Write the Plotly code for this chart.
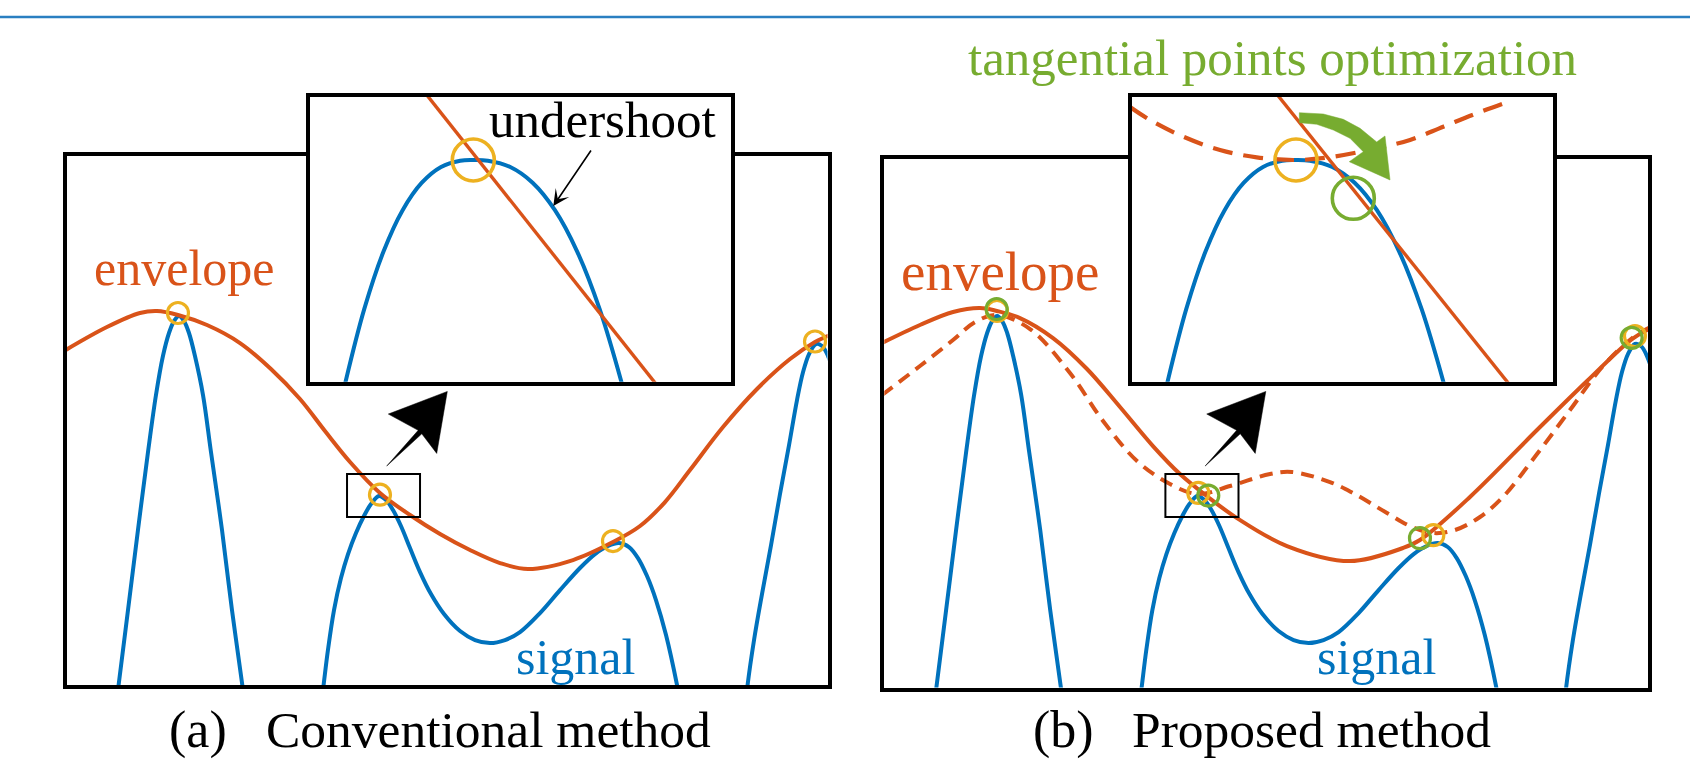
import plotly.graph_objects as go

# ---------------------------------------------------------------
# Figure geometry (pixels) and palette
# ---------------------------------------------------------------
W, H = 1690, 764
BLUE, RED, YELLOW, GREEN = "#0072BD", "#D95319", "#EDB120", "#77AC30"
RULE_BLUE = "#2a7fc1"
SERIF = "Liberation Serif, Times New Roman, serif"

# ---------------------------------------------------------------
# Data (schematic units)
# ---------------------------------------------------------------
# Oscillating signal, identical in both panels (values below 0 are clipped)
signal_t = [0.470, 0.627, 0.705, 0.836, 0.966, 1.097, 1.201, 1.292, 1.371, 1.436,
            1.501, 1.567, 1.632, 1.710, 1.815, 1.919, 2.063, 2.193, 2.337, 2.415,
            2.846, 3.290, 3.381, 3.446, 3.525, 3.616, 3.708, 3.812, 3.916, 4.008,
            4.112, 4.204, 4.295, 4.399, 4.517, 4.648, 4.791, 4.961, 5.170, 5.366,
            5.561, 5.757, 5.953, 6.214, 6.475, 6.736, 6.932, 7.102, 7.245, 7.376,
            7.493, 7.611, 7.728, 7.859, 8.016, 8.146, 8.499, 8.851, 8.916, 9.008,
            9.112, 9.230, 9.347, 9.465, 9.569, 9.648, 9.726, 9.817, 9.896, 9.974,
            10.078]
signal_v = [-1.436, -0.653, 0.000, 1.044, 2.089, 3.107, 3.851, 4.360, 4.661, 4.817,
            4.883, 4.817, 4.661, 4.360, 3.851, 3.107, 2.089, 1.044, 0.000, -0.653,
            -2.480, -0.718, 0.000, 0.522, 1.044, 1.462, 1.775, 2.050, 2.272, 2.428,
            2.533, 2.480, 2.350, 2.141, 1.854, 1.540, 1.253, 0.992, 0.770, 0.653,
            0.614, 0.653, 0.757, 1.005, 1.305, 1.593, 1.775, 1.880, 1.919, 1.867,
            1.723, 1.488, 1.175, 0.718, 0.000, -0.718, -2.480, -0.718, 0.000, 0.653,
            1.253, 1.893, 2.559, 3.198, 3.786, 4.151, 4.386, 4.517, 4.491, 4.360,
            4.047]

# (a) conventional envelope through the local maxima
env_a_t = [0.000, 0.561, 0.992, 1.214, 1.488, 1.867, 2.298, 2.702, 3.081, 3.407,
           3.734, 4.125, 4.517, 4.909, 5.300, 5.692, 6.057, 6.645, 7.167, 7.520,
           7.846, 8.172, 8.603, 9.047, 9.478, 9.804, 10.000]
env_a_v = [4.426, 4.739, 4.922, 4.948, 4.896, 4.765, 4.530, 4.191, 3.799, 3.381,
           2.977, 2.572, 2.285, 2.037, 1.828, 1.658, 1.580, 1.697, 1.932, 2.141,
           2.454, 2.872, 3.433, 3.930, 4.321, 4.543, 4.634]
peaks_a_t = [1.488, 4.125, 7.167, 9.804]
peaks_a_v = [4.922, 2.550, 1.945, 4.550]

# (b) proposed envelope (solid) and conventional envelope (dashed)
env_b_t = [0.000, 0.495, 0.926, 1.278, 1.499, 1.799, 2.230, 2.673, 3.103, 3.533,
           3.885, 4.250, 4.628, 5.280, 6.102, 6.793, 7.014, 7.666, 8.540, 9.192,
           9.778, 10.000]
env_b_v = [4.530, 4.765, 4.935, 4.987, 4.948, 4.856, 4.595, 4.191, 3.695, 3.185,
           2.820, 2.520, 2.245, 1.880, 1.684, 1.854, 1.958, 2.520, 3.394, 4.034,
           4.582, 4.713]
conv_b_t = [0.000, 0.495, 0.926, 1.213, 1.499, 1.930, 2.451, 2.882, 3.325, 3.755,
            4.120, 4.537, 5.059, 5.346, 5.841, 6.141, 6.584, 6.884, 7.184, 7.471,
            7.797, 8.096, 8.540, 8.970, 9.400, 9.817, 10.000]
conv_b_v = [3.851, 4.230, 4.569, 4.804, 4.896, 4.713, 4.138, 3.512, 2.990, 2.689,
            2.559, 2.663, 2.820, 2.846, 2.715, 2.572, 2.311, 2.141, 2.050, 2.089,
            2.259, 2.520, 3.081, 3.655, 4.230, 4.621, 4.730]
peaks_b_t = [1.499, 4.124, 7.188, 9.817]
peaks_b_v = [4.948, 2.573, 2.021, 4.621]
tangent_b_t = [1.495, 4.254, 7.014, 9.774]
tangent_b_v = [4.974, 2.539, 1.983, 4.598]

# zoom window around the second peak and the pointer towards the inset
zoom_win_t = [3.695, 4.648]
zoom_win_v = [2.258, 2.820]
pointer_t = [4.213, 4.624, 4.234, 5.004, 4.866, 4.671, 4.213]
pointer_v = [2.924, 3.390, 3.603, 3.898, 3.089, 3.345, 2.924]

# Magnified view of the second peak (inset units)
inset_sig_t = [0.892, 1.343, 1.793, 2.244, 2.695, 3.146, 3.596, 3.897, 4.246,
               4.771, 5.296, 5.820, 6.345, 6.870, 7.394]
inset_sig_v = [0.000, 1.756, 3.103, 4.080, 4.725, 5.094, 5.242, 5.258, 5.242,
               5.094, 4.725, 4.080, 3.103, 1.756, 0.000]
inset_env_a_t = [2.793, 8.192]
inset_env_a_v = [6.808, 0.000]
inset_env_b_t = [3.467, 8.920]
inset_env_b_v = [6.808, 0.000]
inset_conv_b_t = [0.023, 0.493, 1.275, 2.136, 2.998, 3.857, 4.641, 5.815, 6.596,
                  7.378, 8.162, 8.984]
inset_conv_b_v = [6.502, 6.197, 5.805, 5.493, 5.321, 5.258, 5.312, 5.532, 5.728,
                  6.040, 6.354, 6.650]
inset_peak_a = (3.904, 5.258)
inset_peak_b = (3.920, 5.258)
inset_tangent_b = (5.265, 4.359)
undershoot_tip = (5.782, 4.178)
undershoot_tail = (6.690, 5.516)
# curved "optimization" arrow outline
opt_arrow_t = [3.998, 4.561, 5.031, 5.423, 5.814, 6.009, 6.127, 5.171, 5.500,
               5.188, 4.796, 4.406, 3.998, 3.998]
opt_arrow_v = [6.369, 6.338, 6.213, 6.002, 5.681, 5.822, 4.789, 5.218, 5.453,
               5.767, 5.962, 6.096, 6.134, 6.369]

# ---------------------------------------------------------------
# Build the figure
# ---------------------------------------------------------------
fig = go.Figure()


def line(x, y, color, width, xa, ya, dash=None, shape="spline"):
    fig.add_trace(go.Scatter(
        x=x, y=y, mode="lines", xaxis=xa, yaxis=ya, hoverinfo="skip",
        line=dict(color=color, width=width, dash=dash, shape=shape, smoothing=1.0),
        showlegend=False))


def rings(x, y, color, size, width, xa, ya):
    fig.add_trace(go.Scatter(
        x=x, y=y, mode="markers", xaxis=xa, yaxis=ya, hoverinfo="skip",
        marker=dict(symbol="circle-open", size=size, color=color,
                    line=dict(color=color, width=width)),
        showlegend=False))


def solid_shape(x, y, color, xa, ya):
    fig.add_trace(go.Scatter(
        x=x, y=y, mode="lines", fill="toself", fillcolor=color, xaxis=xa, yaxis=ya,
        line=dict(color=color, width=0.5), hoverinfo="skip", showlegend=False))


LW = 4.0

# panel (a)
line(signal_t, signal_v, BLUE, LW, "x", "y")
line(env_a_t, env_a_v, RED, LW, "x", "y")
rings(peaks_a_t, peaks_a_v, YELLOW, 21, 3.2, "x", "y")
solid_shape(pointer_t, pointer_v, "black", "x", "y")

# panel (b)
line(signal_t, signal_v, BLUE, LW, "x2", "y2")
line(conv_b_t, conv_b_v, RED, LW, "x2", "y2", dash="13px,8px")
line(env_b_t, env_b_v, RED, LW, "x2", "y2")
rings(peaks_b_t, peaks_b_v, YELLOW, 21, 3.2, "x2", "y2")
rings(tangent_b_t, tangent_b_v, GREEN, 21, 3.2, "x2", "y2")
solid_shape(pointer_t, pointer_v, "black", "x2", "y2")

# inset (a)
line(inset_sig_t, inset_sig_v, BLUE, LW, "x3", "y3")
line(inset_env_a_t, inset_env_a_v, RED, 3.4, "x3", "y3", shape="linear")
rings([inset_peak_a[0]], [inset_peak_a[1]], YELLOW, 42, 3.6, "x3", "y3")

# inset (b)
line(inset_sig_t, inset_sig_v, BLUE, LW, "x4", "y4")
line(inset_conv_b_t, inset_conv_b_v, RED, 4.2, "x4", "y4", dash="20px,11px")
line(inset_env_b_t, inset_env_b_v, RED, 3.4, "x4", "y4", shape="linear")
rings([inset_peak_b[0]], [inset_peak_b[1]], YELLOW, 42, 3.6, "x4", "y4")
rings([inset_tangent_b[0]], [inset_tangent_b[1]], GREEN, 42, 3.6, "x4", "y4")
solid_shape(opt_arrow_t, opt_arrow_v, GREEN, "x4", "y4")


# ---------------------------------------------------------------
# Axes: frames only, positioned in pixels
# ---------------------------------------------------------------
def dom_x(a, b):
    return [a / W, b / W]


def dom_y(top, bottom):
    return [1 - bottom / H, 1 - top / H]


frame = dict(showgrid=False, zeroline=False, showticklabels=False, ticks="",
             showline=True, mirror=True, linecolor="black", linewidth=4,
             fixedrange=True)

panels = {
    # name: (x-domain px, y-domain px, x-range, y-range)
    "": ((66.5, 827.5), (156.2, 684.9), (0.033, 9.967), (0.067, 6.969)),
    "2": ((884.3, 1648.3), (158.8, 687.5), (0.030, 9.991), (0.033, 6.935)),
    "3": ((310, 731), (96.7, 381.7), (0.070, 9.953), (0.054, 6.744)),
    "4": ((1132, 1553), (96.7, 381.7), (0.070, 9.953), (0.054, 6.744)),
}
layout_axes = {}
for k, (dx, dy, rx, ry) in panels.items():
    layout_axes["xaxis" + k] = dict(frame, domain=dom_x(*dx), range=list(rx),
                                    anchor="y" + k)
    layout_axes["yaxis" + k] = dict(frame, domain=dom_y(*dy), range=list(ry),
                                    anchor="x" + k)

fig.update_layout(
    width=W, height=H, margin=dict(l=0, r=0, t=0, b=0), autosize=False,
    paper_bgcolor="white", plot_bgcolor="white", showlegend=False,
    hovermode=False, **layout_axes)

# zoom windows in the main panels
for xa, ya in (("x", "y"), ("x2", "y2")):
    fig.add_shape(type="rect", xref=xa, yref=ya,
                  x0=zoom_win_t[0], x1=zoom_win_t[1],
                  y0=zoom_win_v[0], y1=zoom_win_v[1],
                  line=dict(color="black", width=2), layer="above")

# rule across the top
fig.add_shape(type="line", xref="paper", yref="paper", x0=0, x1=1,
              y0=1 - 17 / H, y1=1 - 17 / H, line=dict(color=RULE_BLUE, width=2.5))

# "undershoot" pointer inside inset (a)
fig.add_annotation(x=undershoot_tip[0], y=undershoot_tip[1], xref="x3", yref="y3",
                   ax=undershoot_tail[0], ay=undershoot_tail[1],
                   axref="x3", ayref="y3", showarrow=True, arrowhead=3,
                   arrowsize=1.7, arrowwidth=1.6, arrowcolor="black",
                   standoff=0, text="")


# ---------------------------------------------------------------
# Text
# ---------------------------------------------------------------
def label(text, xpx, ypx, size, color="black", anchor="center"):
    fig.add_annotation(text=text, x=xpx / W, y=1 - ypx / H, xref="paper",
                       yref="paper", showarrow=False, xanchor=anchor,
                       yanchor="middle", font=dict(family=SERIF, size=size,
                                                   color=color))


label("tangential points optimization", 1272, 57.8, 51, GREEN)
label("undershoot", 602.5, 119.5, 51)
label("envelope", 183.5, 268.1, 50, RED)
label("envelope", 1000.5, 271.4, 55, RED)
label("signal", 575, 656.7, 50, BLUE)
label("signal", 1376.7, 656.7, 50, BLUE)
label("(a)", 167, 729.5, 52, anchor="left")
label("Conventional method", 264, 729.5, 51.5, anchor="left")
label("(b)", 1031, 729.5, 52, anchor="left")
label("Proposed method", 1130, 729.5, 51.5, anchor="left")

fig.write_html("out.html")
